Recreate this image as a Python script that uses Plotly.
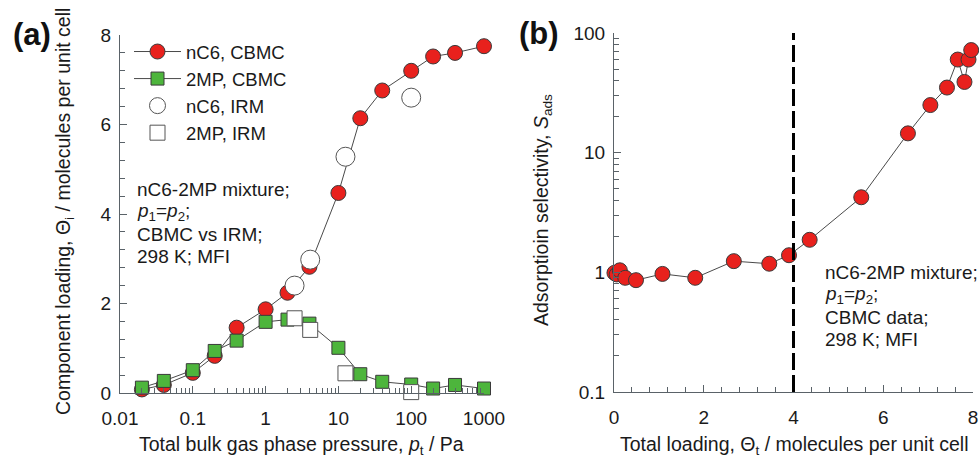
import plotly.graph_objects as go

W, H = 979, 457

# ---- Panel (a) data ----
p_cbmc = [0.02, 0.04, 0.1, 0.2, 0.4, 1, 2, 4, 10, 20, 40, 100, 200, 400, 1000]
nC6_cbmc = [0.08, 0.18, 0.45, 0.83, 1.46, 1.87, 2.24, 2.82, 4.47, 6.14, 6.76, 7.20, 7.52, 7.60, 7.75]
mp2_cbmc = [0.12, 0.27, 0.51, 0.94, 1.17, 1.59, 1.64, 1.55, 1.01, 0.42, 0.25, 0.19, 0.10, 0.18, 0.10]
p_irm = [2.5, 4.1, 12.5, 100]
nC6_irm = [2.40, 2.98, 5.28, 6.60]
mp2_irm = [1.67, 1.41, 0.44, 0.02]
xa_tickvals = [0.01, 0.1, 1, 10, 100, 1000]
xa_ticktext = ["0.01", "0.1", "1", "10", "100", "1000"]

# ---- Panel (b) data ----
theta_t = [0.01, 0.06, 0.13, 0.25, 0.49, 1.08, 1.81, 2.67, 3.46, 3.90, 4.36,
           5.51, 6.55, 7.05, 7.42, 7.66, 7.81, 7.90, 7.96]
s_ads = [0.99, 0.96, 1.04, 0.90, 0.86, 0.97, 0.90, 1.24, 1.18, 1.39, 1.87,
         4.24, 14.5, 25, 35, 60, 39, 60, 72]
yb_tickvals = [0.1, 1, 10, 100]
yb_ticktext = ["0.1", "1", "10", "100"]

# ---- annotation texts ----
note_a = ["nC6-2MP mixture;", "<i>p</i><sub>1</sub>=<i>p</i><sub>2</sub>;", "CBMC vs IRM;", "298 K; MFI"]
note_b = ["nC6-2MP mixture;", "<i>p</i><sub>1</sub>=<i>p</i><sub>2</sub>;", "CBMC data;", "298 K; MFI"]

FONT = "Liberation Sans, Arial, sans-serif"
RED = "#e8211d"
GREEN = "#4db53c"
EDGE = "#3a3a3a"
LINEC = "#4a4a4a"
AXC = "#5a6268"
TXT = "#1a1a1a"

def px_x(p):
    return p / W

def px_y(p):
    return 1 - p / H

fig = go.Figure()

fig.add_trace(go.Scatter(
    x=p_cbmc, y=nC6_cbmc, mode="lines+markers", name="nC6, CBMC",
    line=dict(color=LINEC, width=1),
    marker=dict(symbol="circle", size=15, color=RED, line=dict(color=EDGE, width=1)),
    cliponaxis=False, xaxis="x", yaxis="y"))
fig.add_trace(go.Scatter(
    x=p_cbmc, y=mp2_cbmc, mode="lines+markers", name="2MP, CBMC",
    line=dict(color=LINEC, width=1),
    marker=dict(symbol="square", size=13, color=GREEN, line=dict(color=EDGE, width=1)),
    cliponaxis=False, xaxis="x", yaxis="y"))
fig.add_trace(go.Scatter(
    x=p_irm, y=nC6_irm, mode="markers", name="nC6, IRM",
    marker=dict(symbol="circle", size=19, color="white", line=dict(color="#555", width=1)),
    cliponaxis=False, xaxis="x", yaxis="y"))
fig.add_trace(go.Scatter(
    x=p_irm, y=mp2_irm, mode="markers", name="2MP, IRM",
    marker=dict(symbol="square", size=15, color="white", line=dict(color="#555", width=1)),
    cliponaxis=False, xaxis="x", yaxis="y"))

fig.add_trace(go.Scatter(
    x=theta_t, y=s_ads, mode="lines+markers", showlegend=False,
    line=dict(color=LINEC, width=1),
    marker=dict(symbol="circle", size=15, color=RED, line=dict(color=EDGE, width=1)),
    cliponaxis=False, xaxis="x2", yaxis="y2"))

tickfont = dict(family=FONT, size=19, color=TXT)
common = dict(showline=True, linecolor=AXC, linewidth=1, showgrid=False, zeroline=False,
              ticks="inside", tickcolor=AXC, tickfont=tickfont, mirror=False,
              automargin=False)

fig.update_layout(
    width=W, height=H, margin=dict(l=0, r=0, t=0, b=0, pad=0, autoexpand=False),
    paper_bgcolor="white", plot_bgcolor="white",
    font=dict(family=FONT, size=19, color=TXT),
    xaxis=dict(type="log", range=[-2, 3], domain=[px_x(120), px_x(484)], anchor="y",
               tickvals=xa_tickvals, ticktext=xa_ticktext, ticklen=7, ticklabelstandoff=8,
               minor=dict(ticks="inside", ticklen=5, dtick="D1", tickcolor=AXC, showgrid=False),
               **common),
    yaxis=dict(range=[0, 8], domain=[px_y(393), px_y(35)], anchor="x",
               dtick=2, ticklen=7, ticklabelstandoff=4,
               minor=dict(ticks="inside", ticklen=5, dtick=0.4, tickcolor=AXC, showgrid=False),
               **common),
    xaxis2=dict(range=[0, 8], domain=[px_x(614), px_x(973)], anchor="y2",
                dtick=2, ticklen=7, ticklabelstandoff=8,
                minor=dict(ticks="inside", ticklen=5, dtick=0.4, tickcolor=AXC, showgrid=False),
                **common),
    yaxis2=dict(type="log", range=[-1, 2], domain=[px_y(392), px_y(33)], anchor="x2",
                tickvals=yb_tickvals, ticktext=yb_ticktext, ticklen=7, ticklabelstandoff=4,
                minor=dict(ticks="inside", ticklen=5, dtick="D1", tickcolor=AXC, showgrid=False),
                **common),
    legend=dict(x=px_x(129), y=px_y(33), xanchor="left", yanchor="top",
                bgcolor="rgba(0,0,0,0)", font=dict(family=FONT, size=18.5, color=TXT),
                traceorder="normal", tracegroupgap=0, itemwidth=47),
    showlegend=True,
)

fig.add_shape(type="line", xref="x2", yref="y2 domain", x0=4, x1=4, y0=0, y1=1,
              line=dict(color="black", width=3, dash="17px,5px"))

ann = []
ann.append(dict(text="<b>(a)</b>", x=px_x(11), y=px_y(35), xanchor="left", yanchor="middle",
                font=dict(size=31, family=FONT, color="#111")))
ann.append(dict(text="<b>(b)</b>", x=px_x(517), y=px_y(34), xanchor="left", yanchor="middle",
                font=dict(size=31, family=FONT, color="#111")))
ann.append(dict(text="Component loading, Θ<sub>i</sub> / molecules per unit cell",
                x=px_x(64), y=px_y(212), textangle=-90, xanchor="center", yanchor="middle",
                font=dict(size=19.5, family=FONT, color=TXT)))
ann.append(dict(text="Total bulk gas phase pressure, <i>p</i><sub>t</sub> / Pa",
                x=px_x(301), y=px_y(445), xanchor="center", yanchor="middle",
                font=dict(size=19.5, family=FONT, color=TXT)))
ann.append(dict(text="Adsorptioin selectivity, <i>S</i><sub>ads</sub>",
                x=px_x(543), y=px_y(210), textangle=-90, xanchor="center", yanchor="middle",
                font=dict(size=19.5, family=FONT, color=TXT)))
ann.append(dict(text="Total loading, Θ<sub>t</sub> / molecules per unit cell",
                x=px_x(794), y=px_y(445), xanchor="center", yanchor="middle",
                font=dict(size=19.5, family=FONT, color=TXT)))
for i, line in enumerate(note_a):
    ann.append(dict(text=line, x=px_x(135), y=px_y(189 + 22.6 * i), xanchor="left",
                    yanchor="middle", align="left", font=dict(size=19, family=FONT, color=TXT)))
for i, line in enumerate(note_b):
    ann.append(dict(text=line, x=px_x(823), y=px_y(272 + 22.6 * i), xanchor="left",
                    yanchor="middle", align="left", font=dict(size=19, family=FONT, color=TXT)))
for a in ann:
    a.update(xref="paper", yref="paper", showarrow=False)
fig.update_layout(annotations=ann)

fig.write_html("out.html")
